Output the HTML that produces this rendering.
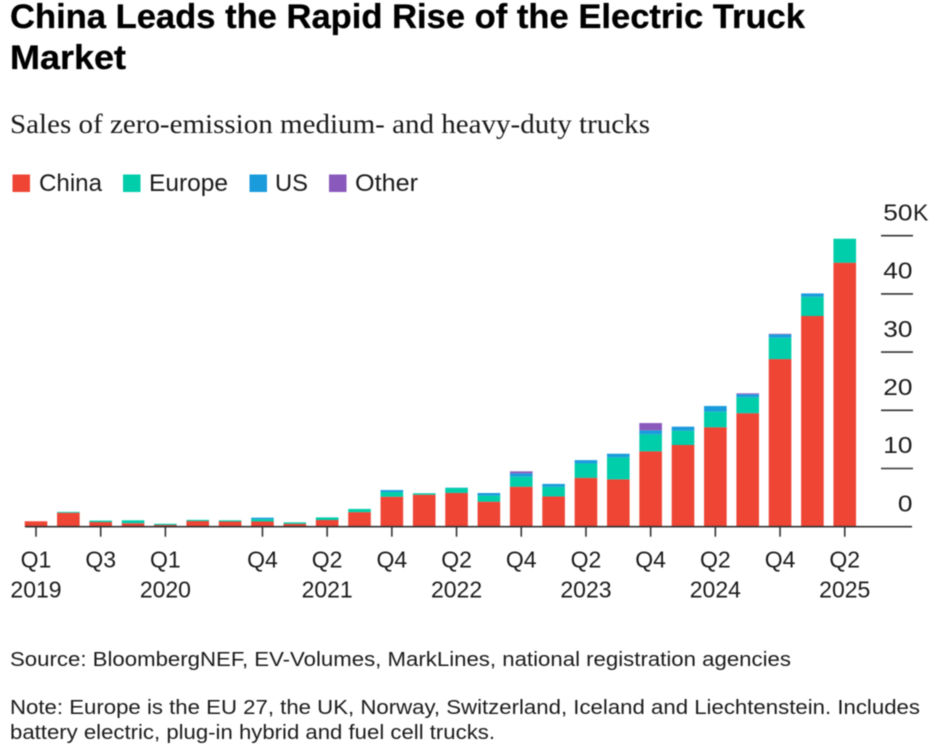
<!DOCTYPE html>
<html lang="en">
<head>
<meta charset="utf-8">
<title>China Leads the Rapid Rise of the Electric Truck Market</title>
<style>
html,body{margin:0;padding:0;background:#fff;width:939px;height:753px;overflow:hidden}
svg{display:block;filter:blur(0.4px)}
text{font-family:"Liberation Sans",Arial,sans-serif;fill:#1a1a1a}
.title{font-weight:700;font-size:34px;fill:#000;stroke:#000;stroke-width:0.3px}
.sub{font-family:"Liberation Serif",serif;font-size:27px;fill:#1a1a1a}
.leg{font-size:24.5px}
.tick{font-size:23px}
.foot{font-size:20.5px}
</style>
</head>
<body>
<svg id="chart" width="939" height="753" viewBox="0 0 939 753" xmlns="http://www.w3.org/2000/svg">
  <text class="title" x="10" y="28" textLength="795" lengthAdjust="spacingAndGlyphs">China Leads the Rapid Rise of the Electric Truck</text>
  <text class="title" x="10" y="69" textLength="116" lengthAdjust="spacingAndGlyphs">Market</text>
  <text class="sub" x="10" y="133" textLength="640" lengthAdjust="spacingAndGlyphs">Sales of zero-emission medium- and heavy-duty trucks</text>

  <g>
    <rect x="12.5" y="174.5" width="17.5" height="17.5" fill="#EE4535"/>
    <text class="leg" x="39" y="191" textLength="63" lengthAdjust="spacingAndGlyphs">China</text>
    <rect x="123" y="174.5" width="17.5" height="17.5" fill="#00CDA9"/>
    <text class="leg" x="149" y="191" textLength="79" lengthAdjust="spacingAndGlyphs">Europe</text>
    <rect x="249.5" y="174.5" width="17.5" height="17.5" fill="#1A9BDC"/>
    <text class="leg" x="275" y="191" textLength="33" lengthAdjust="spacingAndGlyphs">US</text>
    <rect x="329" y="174.5" width="17.5" height="17.5" fill="#8A59BC"/>
    <text class="leg" x="355" y="191" textLength="63" lengthAdjust="spacingAndGlyphs">Other</text>
  </g>

  <g id="bars"></g>
  <g id="y-axis"></g>
  <g id="x-axis"></g>

  <text class="foot" x="10" y="666" textLength="781" lengthAdjust="spacingAndGlyphs">Source: BloombergNEF, EV-Volumes, MarkLines, national registration agencies</text>
  <text class="foot" x="10" y="714" textLength="910" lengthAdjust="spacingAndGlyphs">Note: Europe is the EU 27, the UK, Norway, Switzerland, Iceland and Liechtenstein. Includes</text>
  <text class="foot" x="10" y="739" textLength="485" lengthAdjust="spacingAndGlyphs">battery electric, plug-in hybrid and fuel cell trucks.</text>
</svg>
<script>
var quarters = ["Q1 2019","Q2 2019","Q3 2019","Q4 2019","Q1 2020","Q2 2020","Q3 2020","Q4 2020","Q1 2021","Q2 2021","Q3 2021","Q4 2021","Q1 2022","Q2 2022","Q3 2022","Q4 2022","Q1 2023","Q2 2023","Q3 2023","Q4 2023","Q1 2024","Q2 2024","Q3 2024","Q4 2024","Q1 2025","Q2 2025"];
var china  = [0.93,2.4,0.8,0.6,0.3,0.97,0.9,0.9,0.5,1.15,2.5,5.15,5.5,5.8,4.3,6.87,5.2,8.4,8.14,12.95,14.04,17.08,19.5,28.8,36.2,45.36];
var europe = [0,0.15,0.25,0.5,0.2,0.2,0.2,0.4,0.25,0.45,0.55,0.8,0.25,0.85,1.03,1.72,1.65,2.47,3.78,2.92,2.46,2.68,2.75,3.67,3.3,4.12];
var us     = [0,0,0,0,0,0,0,0.25,0,0,0,0.35,0,0.05,0.46,0.58,0.5,0.57,0.62,0.69,0.69,0.98,0.5,0.58,0.58,0];
var other  = [0,0,0,0,0,0,0,0,0,0,0,0,0,0,0,0.34,0,0,0,1.25,0,0,0.17,0.1,0,0];
var yTicks = [0,10,20,30,40,50];
var xTickQuarters = ["Q1 2019","Q3 2019","Q1 2020","Q4 2020","Q2 2021","Q4 2021","Q2 2022","Q4 2022","Q2 2023","Q4 2023","Q2 2024","Q4 2024","Q2 2025"];
var xTickLabels = ["Q1","Q3","Q1","Q4","Q2","Q4","Q2","Q4","Q2","Q4","Q2","Q4","Q2"];
var xYearLabels = ["2019","","2020","","2021","","2022","","2023","","2024","","2025"];

var NS = "http://www.w3.org/2000/svg";
var plot = {x0: 36, step: 32.35, y0: 526.7, perK: 5.82, barW: 22.6};
function xPos(i) { return plot.x0 + i * plot.step; }
function yPos(v) { return plot.y0 - v * plot.perK; }
function mk(tag, attrs, parent) {
  var el = document.createElementNS(NS, tag);
  for (var k in attrs) el.setAttribute(k, attrs[k]);
  parent.appendChild(el);
  return el;
}

var seriesList = [
  {key: "china", values: china, color: "#EE4535"},
  {key: "europe", values: europe, color: "#00CDA9"},
  {key: "us", values: us, color: "#1A9BDC"},
  {key: "other", values: other, color: "#8A59BC"}
];
var barsG = document.getElementById("bars");
quarters.forEach(function (q, i) {
  var cum = 0;
  seriesList.forEach(function (s) {
    var v = s.values[i];
    if (v <= 0) return;
    var r = mk("rect", {x: xPos(i) - plot.barW / 2, y: yPos(cum + v), width: plot.barW, height: yPos(cum) - yPos(cum + v), fill: s.color}, barsG);
    
    
    cum += v;
  });
});

var yG = document.getElementById("y-axis");
yTicks.forEach(function (t) {
  if (t > 0) {
    var l = mk("line", {x1: 881, x2: 913, y1: yPos(t), y2: yPos(t), stroke: "#333", "stroke-width": 1.6}, yG);
    
    
  }
  var str = String(t);
  var lab = mk("text", {x: 912.5, y: yPos(t) - 15.3, "text-anchor": "end", "class": "tick", textLength: 14.6 * str.length, lengthAdjust: "spacingAndGlyphs"}, yG);
  
  
  lab.textContent = str;
  if (t === 50) {
    var k = mk("text", {x: 913, y: yPos(t) - 15.3, "class": "tick"}, yG);
    
    
    k.textContent = "K";
  }
});

var xG = document.getElementById("x-axis");
var baseline = mk("line", {x1: 25, x2: 912, y1: yPos(0), y2: yPos(0), stroke: "#333", "stroke-width": 1.6}, xG);


xTickQuarters.forEach(function (q, j) {
  var i = quarters.indexOf(q);
  var tk = mk("line", {x1: xPos(i), x2: xPos(i), y1: yPos(0), y2: yPos(0) + 10, stroke: "#333", "stroke-width": 1.6}, xG);
  
  
  var lab = mk("text", {x: xPos(i), y: 567.5, "text-anchor": "middle", "class": "tick"}, xG);
  
  
  lab.textContent = xTickLabels[j];
  if (xYearLabels[j]) {
    var yr = mk("text", {x: xPos(i), y: 597.5, "text-anchor": "middle", "class": "tick"}, xG);
    
    
    yr.textContent = xYearLabels[j];
  }
});
</script>
</body>
</html>
